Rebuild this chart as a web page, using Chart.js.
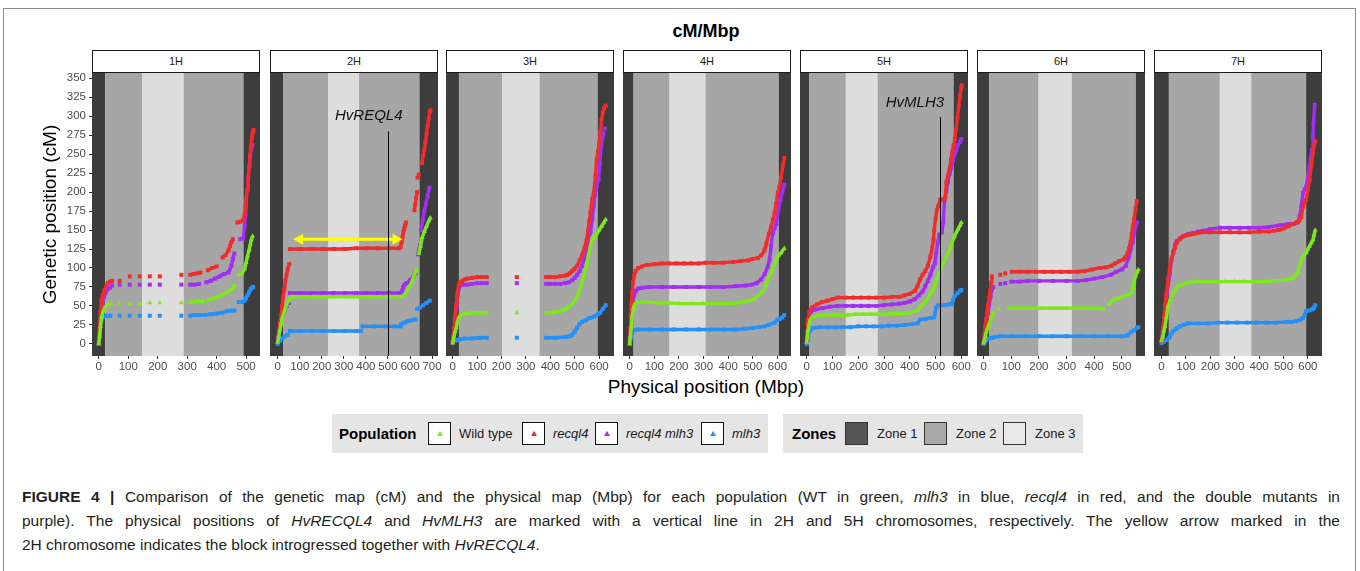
<!DOCTYPE html>
<html>
<head>
<meta charset="utf-8">
<script src="https://cdn.jsdelivr.net/npm/chart.js@4.4.0/dist/chart.umd.min.js"></script>
<style>
  body { margin: 0; background: #fff; }
  #fig { position: relative; width: 1360px; height: 571px; overflow: hidden; font-family: 'Liberation Sans', Arial, sans-serif; }
  .frame { position: absolute; left: 3px; top: 8px; width: 1353px; height: 620px; border: 1px solid #8a8a8a; box-sizing: border-box; }
  .title { position: absolute; left: 0; width: 1412px; top: 21px; text-align: center; font-weight: bold; font-size: 18px; color: #000; }
  .strip { position: absolute; top: 50px; height: 23px; box-sizing: border-box; border: 1px solid #1a1a1a; background: #fff;
           text-align: center; font-size: 11px; line-height: 21px; color: #1a1a1a; }
  canvas { position: absolute; }
  .xtitle { position: absolute; left: 0; width: 1412px; top: 376px; text-align: center; font-size: 19px; color: #000; }
  .legbg { position: absolute; top: 414px; height: 39px; background: #e5e5e5; }
  .legtitle { position: absolute; top: 425px; font-weight: bold; font-size: 15px; color: #000; }
  .key { position: absolute; top: 422px; width: 23px; height: 23px; box-sizing: border-box; border: 1px solid #111; background: #fff; }
  .tri { position: absolute; left: 8px; top: 8px; width: 0; height: 0; border-left: 3px solid transparent; border-right: 3px solid transparent; border-bottom: 5px solid; }
  .zkey { position: absolute; top: 422px; width: 23px; height: 23px; box-sizing: border-box; border: 1px solid #333; }
  .leglab { position: absolute; top: 426px; font-size: 13px; color: #1a1a1a; white-space: nowrap; }
  .cap { position: absolute; left: 22px; width: 1318px; font-size: 15.5px; color: #231f20; text-align: justify; text-align-last: justify; }
  .cap.last { text-align-last: left; }
</style>
</head>
<body>
<div id="fig">
  <div class="frame"></div>
  <div class="title">cM/Mbp</div>
  <div class="xtitle">Physical position (Mbp)</div>

  <div class="legbg" style="left:332px;width:436px;"></div>
  <div class="legtitle" style="left:339px;">Population</div>
  <div class="key" style="left:428px;"><div class="tri" style="border-bottom-color:#7ee81a;"></div></div>
  <div class="leglab" style="left:459px;">Wild type</div>
  <div class="key" style="left:522px;"><div class="tri" style="border-bottom-color:#f02c2c;"></div></div>
  <div class="leglab" style="left:553px;"><i>recql4</i></div>
  <div class="key" style="left:595px;"><div class="tri" style="border-bottom-color:#a22ef2;"></div></div>
  <div class="leglab" style="left:626px;"><i>recql4 mlh3</i></div>
  <div class="key" style="left:701px;"><div class="tri" style="border-bottom-color:#2490f8;"></div></div>
  <div class="leglab" style="left:732px;"><i>mlh3</i></div>

  <div class="legbg" style="left:783px;width:300px;"></div>
  <div class="legtitle" style="left:792px;">Zones</div>
  <div class="zkey" style="left:845px;background:#555555;"></div>
  <div class="leglab" style="left:877px;">Zone 1</div>
  <div class="zkey" style="left:924px;background:#a9a9a9;"></div>
  <div class="leglab" style="left:956px;">Zone 2</div>
  <div class="zkey" style="left:1003px;background:#e9e9e9;"></div>
  <div class="leglab" style="left:1035px;">Zone 3</div>

  <div class="cap" style="top:488px;"><b>FIGURE 4 |</b> Comparison of the genetic map (cM) and the physical map (Mbp) for each population (WT in green, <i>mlh3</i> in blue, <i>recql4</i> in red, and the double mutants in</div>
  <div class="cap" style="top:512px;">purple). The physical positions of <i>HvRECQL4</i> and <i>HvMLH3</i> are marked with a vertical line in 2H and 5H chromosomes, respectively. The yellow arrow marked in the</div>
  <div class="cap last" style="top:536px;">2H chromosome indicates the block introgressed together with <i>HvRECQL4</i>.</div>
</div>

<script>
Chart.defaults.font.family = "'Liberation Sans', Arial, sans-serif";

const chromosomes = ['1H', '2H', '3H', '4H', '5H', '6H', '7H'];
const populations = ['Wild type', 'recql4', 'recql4 mlh3', 'mlh3'];
const popColors = ['#7ee81a', '#f02c2c', '#a22ef2', '#2490f8'];

// physical axis range (Mbp) of each facet
const xRanges = [[-23, 547], [-35, 727], [-27, 661], [-27, 655], [-26, 626], [-24, 584], [-31, 658]];
const yRange = [-16, 357];
const yTicks = [0, 25, 50, 75, 100, 125, 150, 175, 200, 225, 250, 275, 300, 325, 350];

// zone borders (Mbp): zone1 | zone2 | zone3 | zone2 | zone1
const zoneBreaks = [
  [22, 147, 288, 491],
  [26, 230, 369, 643],
  [26, 204, 356, 594],
  [16, 162, 308, 605],
  [9, 152, 275, 570],
  [20, 199, 319, 551],
  [30, 239, 368, 593]
];
const zoneColors = ['#3d3d3d', '#a6a6a6', '#dddddd'];

// [Mbp, cM]; null = gap between markers
const wt1H = [[0,0],[3,10],[6,23],[10,36],[15,43],[22,49],[30,52],[40,53],null,[71,53],null,[105,53],null,[139,53],null,[173,54],null,[207,54],null,[280,54],null,[310,55],[325,55],[340,56],[355,56],null,[370,58],[385,59],[400,61],[415,64],[430,67],[445,70],[455,74],[460,78],null,[475,91],[485,92],[495,99],[500,107],[505,116],[510,124],[514,131],[518,138],[522,142]];
const rq1H = [[0,2],[3,21],[6,41],[9,57],[13,64],[18,70],[24,75],[30,80],[38,82],[45,83],null,[71,83],null,[105,89],null,[139,89],null,[173,89],null,[207,89],null,[280,91],null,[310,91],[320,92],[335,93],[345,94],null,[370,97],[385,100],[400,102],null,[420,114],[430,117],[440,123],[445,129],[450,134],[455,138],null,[470,160],[480,161],[490,163],[495,171],[498,181],[500,191],[503,202],[506,212],[508,222],[510,233],[513,248],[516,259],[519,271],[522,278],[525,282]];
const dm1H = [[0,0],[3,16],[6,31],[9,43],[13,54],[18,62],[24,68],[30,72],[38,74],[45,77],null,[71,78],null,[105,78],null,[139,78],null,[173,78],null,[207,78],null,[280,78],null,[310,78],[325,78],[340,79],null,[365,81],[380,83],[395,86],[410,89],[425,92],[440,94],[450,103],[455,112],[460,119],null,[480,138],[490,139],[495,155],[498,171],[500,186],[503,202],[506,217],[510,233],[514,248],[518,258],[522,262]];
const ml1H = [[0,0],[2,12],[4,21],[6,28],[9,32],[13,35],[20,37],[30,37],[40,37],null,[71,37],null,[105,37],null,[139,37],null,[173,37],null,[207,37],null,[280,37],null,[310,37],[325,38],[340,38],[360,38],[380,39],[400,40],[420,41],[435,43],[450,44],[460,44],null,[475,55],[485,55],[495,57],[500,60],[505,64],[510,68],[515,72],[520,74],[524,75]];

const wt2H = [[0,2],[5,10],[10,18],[15,26],[20,34],[30,43],[40,52],[50,57],[60,62],[110,62],[160,62],[210,62],[260,62],[310,62],[360,62],[410,62],[460,62],[510,62],[555,62],[572,63],[580,67],[590,72],[600,77],[610,83],[620,91],[630,98],null,[640,119],[648,129],[655,140],[665,148],[675,155],[685,162],[692,166]];
const rq2H = [[0,3],[5,15],[10,27],[15,37],[20,50],[25,62],[30,72],[35,83],[40,91],[45,98],[52,105],null,[55,125],[105,125],[155,125],[205,125],[255,125],[305,125],[355,126],[405,126],[455,126],[505,126],[550,126],[558,128],[562,134],[566,141],[570,147],[574,152],[578,156],[582,160],null,[620,176],[624,184],[628,192],[632,200],null,[634,219],[640,223],null,[655,238],[660,248],[665,256],[670,266],[675,277],[680,287],[685,297],[690,306],[693,308]];
const dm2H = [[0,8],[5,16],[10,23],[15,29],[20,35],[30,43],[40,50],[50,54],null,[55,67],[105,67],[155,67],[205,67],[255,67],[305,67],[355,67],[405,67],[455,67],[505,67],[555,67],[565,70],[570,75],[575,78],[585,80],[600,84],[615,88],[625,93],null,[637,118],[642,125],[645,130],null,[650,150],[658,163],[665,175],[672,185],[680,195],[688,206]];
const ml2H = [[0,0],[10,4],[20,7],[30,10],[45,12],null,[55,17],[105,17],[155,17],[205,17],[255,17],[305,17],[355,17],[377,17],null,[385,23],[435,23],[485,23],[535,23],[557,23],[560,26],[575,28],[590,30],[605,31],[625,32],null,[632,46],[645,48],[660,51],[675,54],[690,57]];

const wt3H = [[0,1],[3,5],[6,10],[10,16],[15,21],[20,29],[25,34],[30,37],[40,39],[60,40],[80,41],[100,41],[120,41],[140,41],null,[263,41],null,[383,41],[400,41],[420,42],[440,43],[460,45],[475,49],[490,52],[500,57],[510,62],[520,70],[530,81],[540,93],[550,106],[558,119],[565,129],[572,140],[580,140],[590,145],[600,150],[610,155],[620,160],[627,164]];
const rq3H = [[0,2],[3,10],[6,21],[9,31],[12,41],[15,52],[18,62],[21,70],[25,77],[30,81],[40,83],[50,85],[60,86],[80,87],[100,88],[120,88],[140,88],null,[263,88],null,[383,88],[400,88],[420,88],[440,89],[460,90],[470,91],[480,93],[490,96],[500,99],[510,103],[520,110],[530,117],[540,126],[548,136],[555,150],[560,162],[565,174],[572,191],[578,199],[585,222],[590,243],[595,253],[600,264],[605,279],[610,295],[615,305],[620,310],[627,314]];
const dm3H = [[0,1],[3,8],[6,16],[9,26],[12,36],[15,47],[18,57],[21,65],[25,72],[30,77],[40,78],[60,78],[80,79],[100,80],[120,80],[140,80],null,[263,80],null,[383,79],[400,79],[420,79],[440,79],[460,80],[475,81],[490,84],[500,87],[510,91],[520,96],[530,103],[540,112],[550,122],[558,134],[565,148],[572,165],[578,181],[583,196],[590,207],[598,217],[603,238],[608,258],[613,270],[618,278],null,[624,284]];
const ml3H = [[0,2],[10,4],[20,5],[30,6],[50,7],[80,7],[110,8],[140,8],null,[263,8],null,[383,8],[420,8],[460,9],[480,10],[490,12],[500,16],[510,21],[520,26],[530,29],[545,31],[560,34],[580,36],[595,39],[605,41],[615,46],[627,51]];

const wt4H = [[0,0],[3,10],[6,21],[10,36],[15,47],[20,52],[30,55],[50,55],[80,55],[110,54],[150,54],[200,53],[250,53],[300,53],[350,53],[400,53],[440,54],[470,56],[490,57],[510,60],[530,66],[545,72],[555,80],[565,88],[575,95],[585,103],[595,110],[605,117],[615,120],[628,126]];
const rq4H = [[0,5],[2,21],[4,36],[7,52],[10,67],[14,81],[18,90],[25,96],[35,100],[50,102],[70,104],[100,105],[130,106],[160,106],[190,106],[220,106],[250,106],[280,106],[310,107],[340,107],[380,107],[420,108],[450,109],[480,110],[500,112],[520,113],[535,117],[547,123],[555,132],[565,145],[575,155],[582,164],[588,172],[595,185],[601,199],[608,207],[615,220],[622,235],[628,245]];
const dm4H = [[0,5],[3,16],[6,31],[10,47],[14,57],[18,64],[25,70],[35,73],[50,74],[80,75],[130,75],[180,75],[230,75],[280,75],[330,75],[380,75],[430,76],[470,77],[495,78],[515,80],[534,85],[548,92],[561,102],[568,111],[574,128],[581,146],[588,152],[595,158],[604,177],[612,190],[620,200],[628,210]];
const ml4H = [[0,0],[3,5],[6,10],[10,15],[15,18],[30,19],[80,19],[130,19],[180,19],[230,19],[280,19],[330,19],[380,19],[430,19],[470,20],[500,21],[525,22],[547,23],[565,25],[588,28],[601,32],[610,33],[620,35],[628,38]];

const wt5H = [[0,2],[3,10],[6,19],[9,26],[12,31],[20,35],[40,37],[70,38],[100,38],[130,38],[160,38],[190,39],[220,39],[250,39],[280,39],[310,39],[340,40],[370,40],[400,41],[430,44],[445,50],[460,55],[471,60],[480,66],[490,72],[497,77],[505,86],[515,94],[523,101],[535,110],[548,119],[560,130],[574,142],[587,151],[595,156],[600,160]];
const rq5H = [[0,5],[2,16],[4,26],[6,32],[10,42],[20,48],[40,52],[60,55],[80,57],[100,59],[120,61],[150,61],[180,61],[210,61],[240,61],[270,61],[300,61],[330,62],[360,62],[380,64],[400,66],[420,70],[430,76],[440,85],[450,91],[460,96],[470,103],[480,115],[487,126],[492,137],[495,150],[500,165],[505,176],[510,181],[518,190],[530,190],[538,193],[542,213],[548,222],[555,232],[560,243],[565,253],[570,262],[575,270],[580,283],[585,298],[590,313],[595,327],[600,338],[602,341]];
const dm5H = [[0,3],[3,12],[6,24],[10,37],[15,42],[30,45],[60,47],[90,49],[120,50],[150,50],[180,50],[210,50],[240,50],[270,50],[300,51],[330,52],[360,53],[380,54],[400,56],[420,59],[435,64],[450,69],[460,76],[470,83],[480,91],[490,101],[497,106],[503,120],[508,133],[515,144],[525,147],[530,160],[535,190],[542,202],[548,213],[555,224],[561,232],[568,242],[574,250],[580,255],[587,262],[594,266],[600,270]];
const ml5H = [[0,0],[3,5],[6,10],[10,16],[15,19],[25,21],[50,22],[80,22],[110,22],[140,22],[170,22],[200,23],[230,23],[260,23],[290,23],[320,24],[350,24],[380,25],[410,26],[430,27],[440,32],[460,33],[480,34],[495,35],[503,48],[510,51],[520,51],[535,51],[550,52],[561,52],[568,58],[574,63],[585,67],[595,70],[600,71]];

const wt6H = [[0,1],[3,5],[6,10],[10,16],[15,21],[20,26],[25,31],[30,36],[36,41],null,[54,46],null,[90,47],[120,47],[150,47],[180,47],[210,47],[240,47],[270,47],[300,47],[330,47],[360,47],[390,47],[415,47],[435,46],null,[455,52],[465,57],[480,59],[500,62],[520,64],[535,67],[540,74],[545,83],[550,89],[556,95],[560,98]];
const rq6H = [[0,3],[3,12],[6,23],[9,33],[12,41],[16,52],[20,60],[24,70],[27,81],[30,89],null,[60,91],null,[78,93],null,[102,95],[130,95],[160,95],[190,95],[220,95],[250,95],[280,95],[310,95],[340,95],[365,96],[392,98],[420,100],[445,101],[464,103],[476,106],[490,109],[505,111],[512,114],[520,119],[526,126],[532,134],[536,145],[540,155],[545,165],[550,178],[554,188]];
const dm6H = [[0,2],[3,8],[6,16],[9,23],[12,31],[16,41],[20,52],[25,62],[30,72],[35,75],null,[60,79],null,[78,80],null,[100,82],[130,82],[160,83],[200,83],[250,83],[300,83],[340,83],[370,84],[400,86],[430,88],[460,91],[480,95],[500,98],[515,103],[525,114],[532,124],[540,134],[545,145],[550,155],[555,160]];
const ml6H = [[0,0],[5,3],[10,5],[20,7],[30,8],[40,9],[60,10],[100,10],[150,10],[200,10],[250,10],[300,10],[350,10],[400,10],[450,10],[500,10],[520,11],[535,16],[545,18],[555,21],[560,22]];

const wt7H = [[0,4],[5,10],[10,17],[14,23],[20,35],[27,50],[35,58],[48,67],[58,72],[68,76],[85,78],[102,80],[120,81],[140,82],[180,82],[220,82],[260,82],[300,82],[340,82],[380,82],[420,82],[460,83],[500,84],[520,85],[539,87],[550,90],[559,93],[566,102],[573,111],[583,116],[593,120],[600,125],[607,129],[614,133],[621,137],[625,143],[630,150]];
const rq7H = [[0,4],[5,18],[10,35],[15,52],[20,67],[27,85],[34,102],[41,112],[48,120],[55,127],[61,133],[75,138],[89,142],[102,143],[116,144],[130,145],[145,146],[160,147],[200,147],[240,147],[280,147],[320,147],[360,147],[400,148],[440,148],[460,149],[480,150],[500,152],[520,155],[540,158],[553,160],[565,163],[573,167],[580,181],[587,186],[593,190],[600,203],[607,216],[614,234],[621,251],[625,260],[630,267]];
const dm7H = [[0,4],[5,16],[10,32],[15,48],[20,63],[27,78],[34,93],[41,111],[48,121],[55,130],[61,135],[75,139],[89,142],[110,145],[130,146],[150,148],[170,149],[198,151],[240,153],[280,153],[320,153],[360,153],[400,153],[440,154],[480,156],[520,158],[540,158],[559,160],[566,168],[573,181],[580,199],[587,204],[593,207],[600,220],[607,234],[612,245],[617,256],[621,273],[623,291],[628,315]];
const ml7H = [[0,1],[10,3],[20,5],[30,8],[34,10],[41,14],[48,17],[60,20],[75,23],[90,25],[109,27],[150,27],[190,27],[230,28],[270,28],[310,28],[350,28],[390,28],[430,28],[470,28],[510,29],[530,29],[553,30],[570,32],[580,34],[587,38],[593,43],[605,44],[615,45],[621,46],[626,48],[630,51]];

const seriesByChrom = [
  [wt1H, rq1H, dm1H, ml1H],
  [wt2H, rq2H, dm2H, ml2H],
  [wt3H, rq3H, dm3H, ml3H],
  [wt4H, rq4H, dm4H, ml4H],
  [wt5H, rq5H, dm5H, ml5H],
  [wt6H, rq6H, dm6H, ml6H],
  [wt7H, rq7H, dm7H, ml7H]
];

// gene positions and the introgressed block (Mbp / cM)
const genes = { '2H': { x: 498, top: 280, label: 'HvREQL4', labelX: 413, labelY: 300 },
                '5H': { x: 518, top: 299, label: 'HvMLH3', labelX: 420, labelY: 318 } };
const introgressed = { '2H': { from: 70, to: 566, y: 138 } };

// layout
const panelLeft = [92, 270, 446, 623, 800, 977, 1154];
const panelW = 168;
const plotTop = 73, plotH = 283;
const pad = 12, topPad = 10, xAxisH = 22, yAxisW = 60;

function toPoints(arr) {
  return arr.map((p, i) => p ? { x: p[0], y: p[1] } : { x: arr[i - 1][0] + 1, y: null });
}

const zonesPlugin = {
  id: 'zones',
  beforeDatasetsDraw(chart, args, opts) {
    const { ctx, chartArea: a, scales: { x } } = chart;
    const b = opts.breaks;
    const edges = [a.left, x.getPixelForValue(b[0]), x.getPixelForValue(b[1]),
                   x.getPixelForValue(b[2]), x.getPixelForValue(b[3]), a.right];
    const fill = [zoneColors[0], zoneColors[1], zoneColors[2], zoneColors[1], zoneColors[0]];
    ctx.save();
    for (let k = 0; k < 5; k++) {
      ctx.fillStyle = fill[k];
      ctx.fillRect(edges[k], a.top, edges[k + 1] - edges[k], a.bottom - a.top);
    }
    ctx.restore();
  }
};

const marksPlugin = {
  id: 'marks',
  afterDatasetsDraw(chart, args, opts) {
    const { ctx, chartArea: a, scales: { x, y } } = chart;
    const g = genes[opts.chrom];
    const arr = introgressed[opts.chrom];
    ctx.save();
    if (arr) {
      const x1 = x.getPixelForValue(arr.from), x2 = x.getPixelForValue(arr.to);
      const py = y.getPixelForValue(arr.y);
      ctx.strokeStyle = '#ffff00';
      ctx.fillStyle = '#ffff00';
      ctx.lineWidth = 3;
      ctx.beginPath();
      ctx.moveTo(x1 + 8, py);
      ctx.lineTo(x2 - 8, py);
      ctx.stroke();
      ctx.beginPath();
      ctx.moveTo(x1, py); ctx.lineTo(x1 + 10, py - 5.5); ctx.lineTo(x1 + 10, py + 5.5); ctx.closePath();
      ctx.moveTo(x2, py); ctx.lineTo(x2 - 10, py - 5.5); ctx.lineTo(x2 - 10, py + 5.5); ctx.closePath();
      ctx.fill();
    }
    if (g) {
      const gx = Math.round(x.getPixelForValue(g.x)) + 0.5;
      ctx.strokeStyle = '#000';
      ctx.lineWidth = 1;
      ctx.beginPath();
      ctx.moveTo(gx, y.getPixelForValue(g.top));
      ctx.lineTo(gx, a.bottom);
      ctx.stroke();
      ctx.fillStyle = '#111';
      ctx.font = "italic 15px 'Liberation Sans', Arial, sans-serif";
      ctx.textAlign = 'center';
      ctx.textBaseline = 'middle';
      ctx.fillText(g.label, x.getPixelForValue(g.labelX), y.getPixelForValue(g.labelY));
    }
    ctx.restore();
  }
};

const fig = document.getElementById('fig');

chromosomes.forEach((chrom, i) => {
  const strip = document.createElement('div');
  strip.className = 'strip';
  strip.style.left = panelLeft[i] + 'px';
  strip.style.width = panelW + 'px';
  strip.textContent = chrom;
  fig.appendChild(strip);

  const first = i === 0;
  const w = panelW + 2 * pad + (first ? yAxisW : 0);
  const h = topPad + plotH + xAxisH;
  const canvas = document.createElement('canvas');
  canvas.width = w; canvas.height = h;
  canvas.style.width = w + 'px'; canvas.style.height = h + 'px';
  canvas.style.left = (panelLeft[i] - pad - (first ? yAxisW : 0)) + 'px';
  canvas.style.top = (plotTop - topPad) + 'px';
  fig.appendChild(canvas);

  const [xmin, xmax] = xRanges[i];
  const xTicks = [0, 100, 200, 300, 400, 500, 600, 700].filter(v => v <= xmax);

  new Chart(canvas, {
    type: 'scatter',
    data: {
      datasets: seriesByChrom[i].map((arr, k) => ({
        label: populations[k],
        data: toPoints(arr),
        showLine: true,
        spanGaps: false,
        borderColor: popColors[k],
        backgroundColor: popColors[k],
        borderWidth: 3.4,
        borderJoinStyle: 'round',
        pointStyle: k === 0 ? 'triangle' : 'rect',
        pointRadius: 2.8,
        pointBorderWidth: 0,
        pointHoverRadius: 0
      }))
    },
    options: {
      responsive: false,
      animation: false,
      devicePixelRatio: 1,
      layout: { padding: { left: pad, right: pad, top: topPad, bottom: 0 } },
      plugins: {
        legend: { display: false },
        tooltip: { enabled: false },
        zones: { breaks: zoneBreaks[i] },
        marks: { chrom: chrom }
      },
      scales: {
        x: {
          type: 'linear',
          min: xmin,
          max: xmax,
          afterBuildTicks: s => { s.ticks = xTicks.map(v => ({ value: v })); },
          afterFit: s => { s.height = xAxisH; },
          ticks: { color: '#4d4d4d', font: { size: 11.5 }, padding: 1, maxRotation: 0, autoSkip: false },
          grid: { drawOnChartArea: false, drawTicks: true, tickLength: 3, color: '#333' },
          border: { display: false }
        },
        y: {
          display: first,
          min: yRange[0],
          max: yRange[1],
          afterBuildTicks: s => { s.ticks = yTicks.map(v => ({ value: v })); },
          afterFit: s => { s.width = first ? yAxisW : 0; },
          ticks: { color: '#4d4d4d', font: { size: 11.5 }, padding: 3, autoSkip: false },
          grid: { drawOnChartArea: false, drawTicks: true, tickLength: 3, color: '#333' },
          border: { display: false },
          title: { display: first, text: 'Genetic position (cM)', color: '#000',
                   font: { size: 19 }, padding: { top: 7, bottom: 0 } }
        }
      }
    },
    plugins: [zonesPlugin, marksPlugin]
  });
});
</script>
</body>
</html>
